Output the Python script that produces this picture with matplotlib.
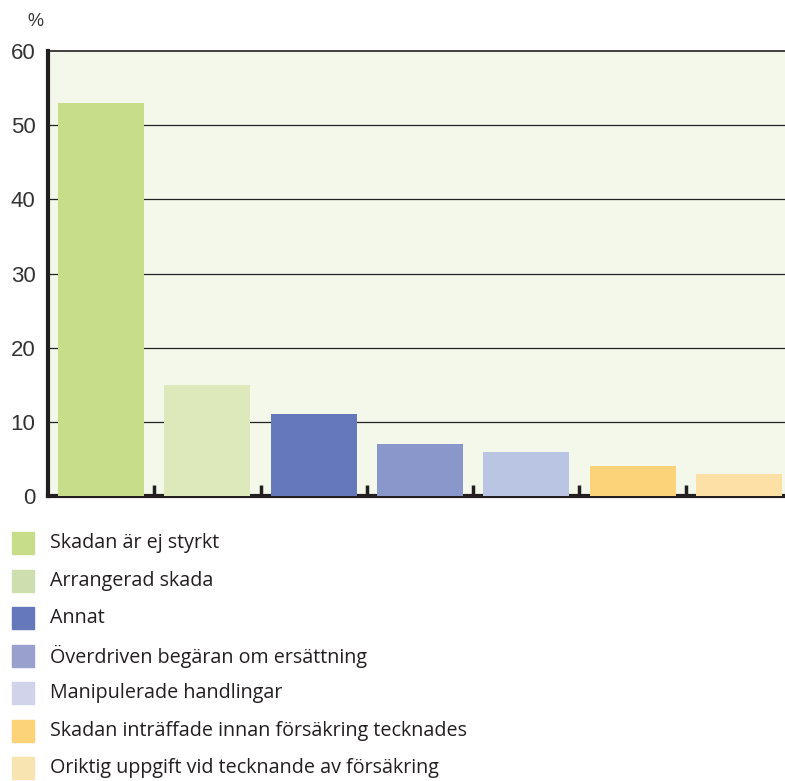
import matplotlib.pyplot as plt
from matplotlib.patches import Rectangle

# Data
categories = [
    "Skadan är ej styrkt",
    "Arrangerad skada",
    "Annat",
    "Överdriven begäran om ersättning",
    "Manipulerade handlingar",
    "Skadan inträffade innan försäkring tecknades",
    "Oriktig uppgift vid tecknande av försäkring",
]
values = [53, 15, 11, 7, 6, 4, 3]
bar_colors = ["#C8DD8A", "#DDE9BA", "#6578BC", "#8A97CA", "#B9C5E3", "#FDD37A", "#FDE0A5"]
legend_colors = ["#C8DD8A", "#CDDFAE", "#6578BC", "#99A0CE", "#D0D3EA", "#FDD37A", "#F8E4B0"]
yticks = [0, 10, 20, 30, 40, 50, 60]

W, H = 785, 781
fig = plt.figure(figsize=(W / 100, H / 100), dpi=100)
ax = fig.add_axes([48 / W, 285 / H, 744 / W, 445 / H])
ax.set_facecolor("#F4F8EA")

x = list(range(len(values)))
ax.bar(x, values, width=0.81, color=bar_colors, zorder=3)

ax.set_xlim(-0.5, len(values) - 0.5)
ax.set_ylim(0, 60)
ax.set_yticks(yticks)
ax.set_yticklabels([str(t) for t in yticks], fontsize=16, family="Liberation Sans", color="#333333")
for t in yticks[1:-1]:
    ax.axhline(t, color="#222222", lw=0.9, zorder=2)

ax.tick_params(axis="y", length=0, pad=9)
ax.set_xticks([i + 0.5 for i in range(len(values) - 1)])
ax.set_xticklabels([])
ax.tick_params(axis="x", direction="in", length=8, width=2.5, color="#231f20")

for s in ["left", "bottom"]:
    ax.spines[s].set_linewidth(3)
    ax.spines[s].set_color("#231f20")
ax.spines["top"].set_linewidth(1.2)
ax.spines["top"].set_color("#231f20")
ax.spines["right"].set_visible(False)

fig.text(35 / W, 1 - 22 / H, "%", fontsize=13, family="Liberation Sans",
         color="#333333", ha="center", va="center")

# Legend
row_y = [543, 581, 618, 656, 693, 731, 768]
for cat, col, yy in zip(categories, legend_colors, row_y):
    fig.patches.append(Rectangle((12 / W, 1 - (yy + 11) / H), 22 / W, 22 / H,
                                 transform=fig.transFigure, color=col, figure=fig))
    fig.text(50 / W, 1 - yy / H, cat, fontsize=14.2, family="Open Sans",
             color="#231f20", ha="left", va="center")

fig.savefig("out.png", dpi=100)
